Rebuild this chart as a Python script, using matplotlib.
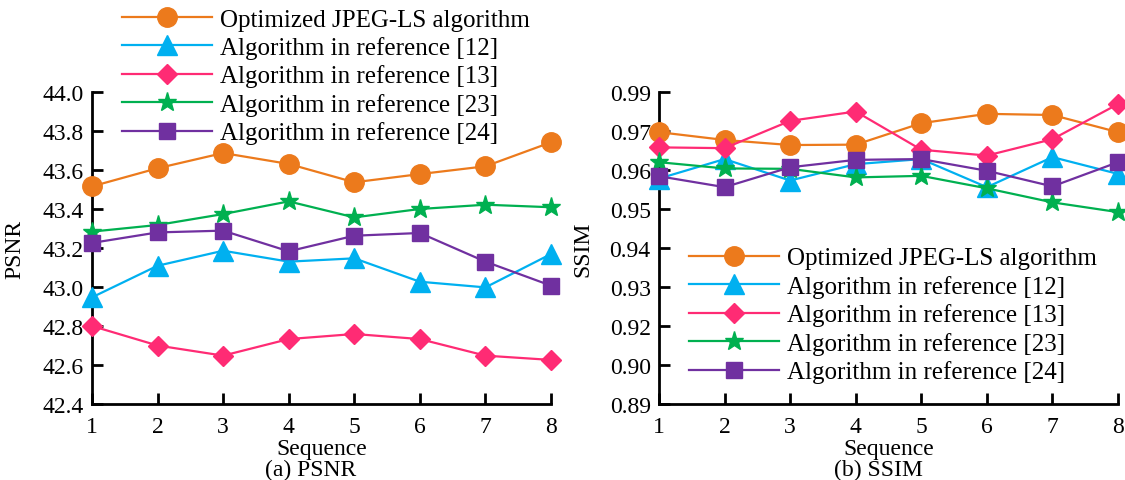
import numpy as np
import matplotlib
matplotlib.use("Agg")
import matplotlib.pyplot as plt

plt.rcParams['font.family'] = ['Liberation Serif', 'DejaVu Serif']

sequence = [1, 2, 3, 4, 5, 6, 7, 8]
labels = ["Optimized JPEG-LS algorithm", "Algorithm in reference [12]",
          "Algorithm in reference [13]", "Algorithm in reference [23]",
          "Algorithm in reference [24]"]

psnr_opt = [43.516, 43.609, 43.687, 43.631, 43.537, 43.579, 43.619, 43.742]
psnr_12 = [42.947, 43.109, 43.186, 43.130, 43.147, 43.027, 42.998, 43.169]
psnr_13 = [42.800, 42.700, 42.648, 42.733, 42.759, 42.733, 42.648, 42.626]
psnr_23 = [43.284, 43.318, 43.374, 43.439, 43.357, 43.400, 43.422, 43.409]
psnr_24 = [43.226, 43.280, 43.289, 43.183, 43.263, 43.277, 43.130, 43.007]

ssim_opt = [0.9697, 0.9677, 0.9664, 0.9665, 0.9740, 0.9788, 0.9782, 0.9697]
ssim_12 = [0.9578, 0.9628, 0.9573, 0.9615, 0.9628, 0.9556, 0.9633, 0.9590]
ssim_13 = [0.9658, 0.9656, 0.9752, 0.9800, 0.9652, 0.9637, 0.9679, 0.9838]
ssim_23 = [0.9620, 0.9604, 0.9603, 0.9581, 0.9585, 0.9553, 0.9517, 0.9492]
ssim_24 = [0.9584, 0.9556, 0.9607, 0.9626, 0.9628, 0.9598, 0.9558, 0.9620]

psnr_ticks = [42.4, 42.6, 42.8, 43.0, 43.2, 43.4, 43.6, 43.8, 44.0]
ssim_ticks = [0.89, 0.90, 0.92, 0.93, 0.94, 0.95, 0.96, 0.97, 0.99]
ssim_ticklabels = ["0.89", "0.90", "0.92", "0.93", "0.94", "0.95", "0.96", "0.97", "0.99"]

colors = ["#EC7A1C", "#00B0F0", "#FF2B74", "#00B050", "#7030A0"]
markers = ["o", "^", "D", "*", "s"]
msizes = [14, 14, 10, 14, 12]

FS = 17
LFS = 18
W, H = 1125, 481
fig = plt.figure(figsize=(W / 100, H / 100), dpi=100)

def box(l, r, t, b):
    return [l / W, 1 - b / H, (r - l) / W, (b - t) / H]

ax1 = fig.add_axes(box(92, 551, 93, 405))
ax2 = fig.add_axes(box(659, 1118, 93, 405))

# piecewise scale for SSIM axis (evenly spaced, non-uniform labels)
pos = np.arange(len(ssim_ticks), dtype=float)
def fwd(v):
    return np.interp(v, ssim_ticks, pos)
def inv(p):
    return np.interp(p, pos, ssim_ticks)
ax2.set_yscale('function', functions=(fwd, inv))

psnr_series = [psnr_opt, psnr_12, psnr_13, psnr_23, psnr_24]
ssim_series = [ssim_opt, ssim_12, ssim_13, ssim_23, ssim_24]

for ax, series in ((ax1, psnr_series), (ax2, ssim_series)):
    for vals, c, m, ms, lab in zip(series, colors, markers, msizes, labels):
        ax.plot(sequence, vals, color=c, marker=m, markersize=ms, lw=1.6,
                label=lab, clip_on=False, zorder=3)
    ax.set_xlim(1, 8)
    ax.set_xticks(sequence)
    for s in ('top', 'right'):
        ax.spines[s].set_visible(False)
    for s in ('left', 'bottom'):
        ax.spines[s].set_linewidth(2)
    ax.tick_params(direction='in', length=8, width=2, labelsize=FS, pad=6)
    ax.tick_params(axis='x', pad=9)
    ax.set_xlabel("Sequence", fontsize=FS)
    ax.xaxis.set_label_coords(0.5, -(439 - 405) / 312)

ax1.set_ylim(42.4, 44.0)
ax1.set_yticks(psnr_ticks)
ax1.set_yticklabels([f"{t:.1f}" for t in psnr_ticks])
ax1.set_ylabel("PSNR", fontsize=FS, labelpad=12)

ax2.set_ylim(0.89, 0.99)
ax2.set_yticks(ssim_ticks)
ax2.set_yticklabels(ssim_ticklabels)
ax2.yaxis.set_minor_locator(matplotlib.ticker.NullLocator())
ax2.set_ylabel("SSIM", fontsize=FS, labelpad=12)

fig.text(311 / W, 1 - 470 / H, "(a) PSNR", fontsize=FS, ha='center', va='center')
fig.text(878 / W, 1 - 470 / H, "(b) SSIM", fontsize=FS, ha='center', va='center')

leg_kw = dict(fontsize=LFS, frameon=False, handlelength=3.6, labelspacing=0.22,
              handletextpad=0.32, borderpad=0, borderaxespad=0)
ax1.legend(loc='upper left', bbox_to_anchor=(122 / W, 1 - 9 / H),
           bbox_transform=fig.transFigure, **leg_kw)
ax2.legend(loc='upper left', bbox_to_anchor=(689 / W, 1 - 248 / H),
           bbox_transform=fig.transFigure, **leg_kw)

fig.savefig("out.png", dpi=100)
